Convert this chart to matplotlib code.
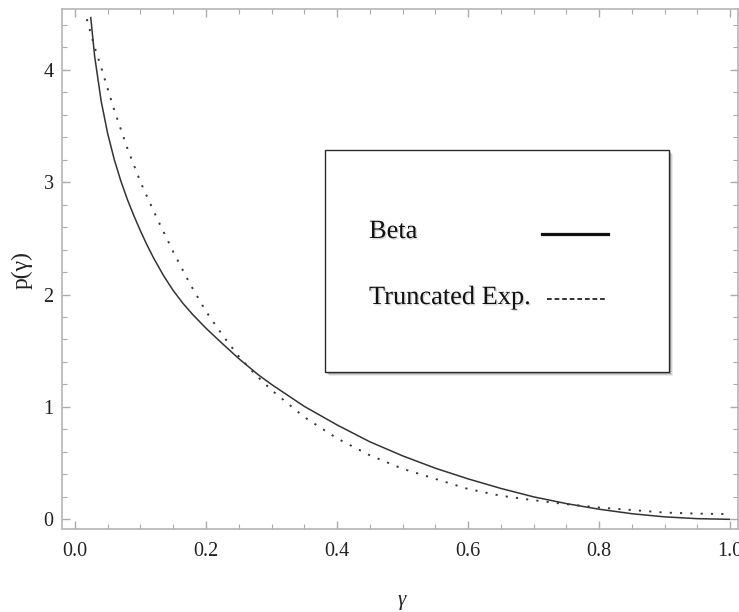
import matplotlib
matplotlib.use('Agg')
import matplotlib.pyplot as plt
import matplotlib.patheffects as pe
from matplotlib.patches import Rectangle
from matplotlib.lines import Line2D
from matplotlib.ticker import MultipleLocator

plt.rcParams['font.family'] = ['Liberation Serif', 'DejaVu Serif']

# values
beta_x = [0.024, 0.03, 0.04, 0.05, 0.06, 0.07, 0.08, 0.09, 0.10, 0.11, 0.12, 0.135,
          0.15, 0.165, 0.18, 0.20, 0.22, 0.25, 0.28, 0.30, 0.35, 0.40, 0.45, 0.50,
          0.55, 0.60, 0.65, 0.70, 0.75, 0.80, 0.85, 0.90, 0.95, 1.00]
beta_y = [4.47, 4.12, 3.72, 3.43, 3.20, 3.01, 2.845, 2.70, 2.565, 2.44, 2.325, 2.17,
          2.035, 1.92, 1.82, 1.70, 1.59, 1.43, 1.285, 1.20, 1.005, 0.84, 0.69, 0.565,
          0.455, 0.36, 0.275, 0.20, 0.14, 0.09, 0.05, 0.022, 0.006, 0.0]

texp_x = [0.018, 0.03, 0.04, 0.05, 0.06, 0.08, 0.10, 0.125, 0.15, 0.175, 0.20, 0.225,
          0.25, 0.275, 0.30, 0.35, 0.40, 0.45, 0.50, 0.55, 0.60, 0.65, 0.70, 0.75,
          0.80, 0.85, 0.90, 0.95, 1.00]
texp_y = [4.45, 4.20, 4.02, 3.83, 3.64, 3.30, 3.00, 2.68, 2.38, 2.10, 1.85, 1.64,
          1.45, 1.29, 1.15, 0.91, 0.72, 0.57, 0.45, 0.36, 0.27, 0.21, 0.17, 0.135,
          0.105, 0.083, 0.06, 0.051, 0.046]

labels = ['Beta', 'Truncated Exp.']

fig = plt.figure(figsize=(7.39, 6.12), dpi=100)
ax = fig.add_axes([62/739, 1 - 529/612, 676/739, 520/612])

ax.plot(beta_x, beta_y, color='#333333', lw=1.1, solid_capstyle='butt')
ax.plot(texp_x, texp_y, color='#3a3a3a', lw=1.4, linestyle=(0, (1.1, 4.2)))

ax.set_xlim(-0.0198, 1.012)
ax.set_ylim(-0.086, 4.54)
ax.xaxis.set_major_locator(MultipleLocator(0.2))
ax.xaxis.set_minor_locator(MultipleLocator(0.05))
ax.yaxis.set_major_locator(MultipleLocator(1))
ax.yaxis.set_minor_locator(MultipleLocator(0.2))
ax.xaxis.set_major_formatter(matplotlib.ticker.FormatStrFormatter('%.1f'))
ax.yaxis.set_major_formatter(matplotlib.ticker.FormatStrFormatter('%d'))

ax.tick_params(which='both', direction='in', top=True, right=True, color='#aaaaaa',
               labelsize=14.5, labelcolor='#222222')
ax.tick_params(which='major', length=6, width=1.0)
ax.tick_params(which='minor', length=3.5, width=0.8)
ax.tick_params(axis='x', pad=9)
ax.tick_params(axis='y', pad=6)
for s in ax.spines.values():
    s.set_color('#b5b5b5')
    s.set_linewidth(1.2)

fig.text(402/739, 1 - 600/612, 'γ', ha='center', va='center', fontsize=15,
         style='italic', color='#222222')
fig.text(22/739, 1 - 270/612, 'p(γ)', ha='center', va='center', fontsize=17,
         rotation=90, color='#222222')

# legend box drawn by hand, with a soft drop shadow
bx0, bx1 = 325/739, 669/739
by0, by1 = 1 - 372/612, 1 - 150/612
for off, a in [(4, 0.08), (3, 0.12), (2, 0.18)]:
    fig.patches.append(Rectangle((bx0 + off/739, by0 - off/612), bx1 - bx0, by1 - by0,
                                 transform=fig.transFigure, facecolor='#000000',
                                 edgecolor='none', alpha=a, zorder=5))
fig.patches.append(Rectangle((bx0, by0), bx1 - bx0, by1 - by0, transform=fig.transFigure,
                             facecolor='white', edgecolor='#2a2a2a', lw=1.0, zorder=6))

shadow = [pe.withSimplePatchShadow(offset=(1, -1), shadow_rgbFace='#888888', alpha=0.35)]
fig.text(369/739, 1 - 232/612, labels[0], ha='left', va='center', fontsize=19,
         color='#111111', zorder=7, path_effects=shadow)
fig.text(369/739, 1 - 298/612, labels[1], ha='left', va='center', fontsize=19,
         color='#111111', zorder=7, path_effects=shadow)
fig.lines.append(Line2D([542/739, 608/739], [1 - 234/612, 1 - 234/612],
                        transform=fig.transFigure, color='#111111', lw=2.3, zorder=7))
fig.lines.append(Line2D([547/739, 606/739], [1 - 299/612, 1 - 299/612],
                        transform=fig.transFigure, color='#222222', lw=1.3,
                        linestyle=(0, (2.6, 1.6)), zorder=7))

fig.savefig('out.png', dpi=100)
